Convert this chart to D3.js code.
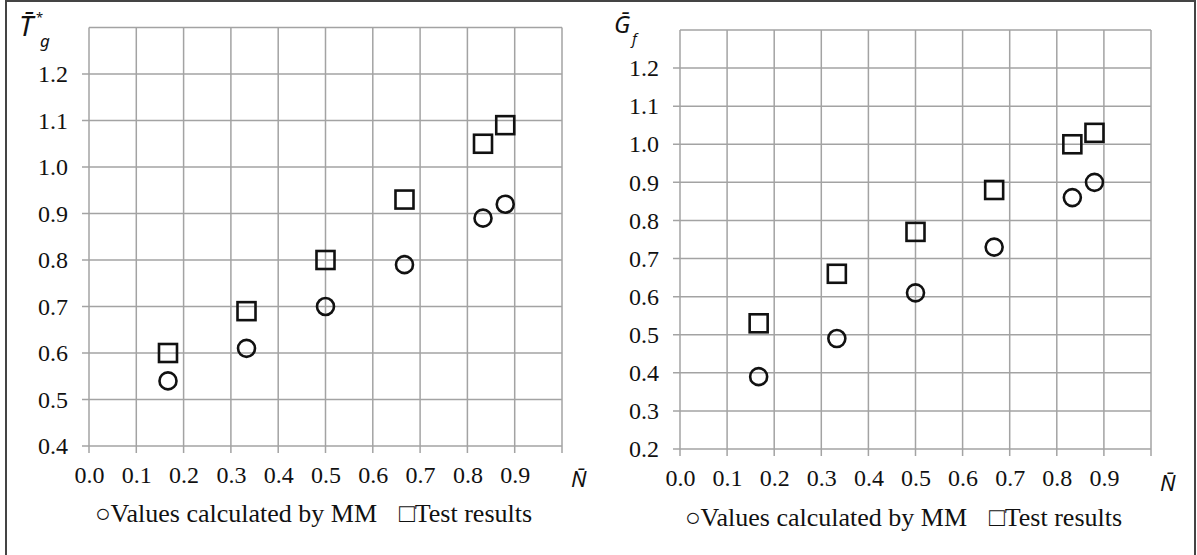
<!DOCTYPE html>
<html>
<head>
<meta charset="utf-8">
<script src="https://cdn.jsdelivr.net/npm/d3@7"></script>
<style>
  body { margin: 0; background: #fff; }
  svg { display: block; }
</style>
</head>
<body>
<div id="chart"></div>
<script>
// Values of N (relative load) shared by both panels
const nValues = [0.167, 0.333, 0.5, 0.667, 0.833, 0.88];

// Left panel: T*g
const tgCalc = [0.54, 0.61, 0.70, 0.79, 0.89, 0.92];
const tgTest = [0.60, 0.69, 0.80, 0.93, 1.05, 1.09];

// Right panel: Gf
const gfCalc = [0.39, 0.49, 0.61, 0.73, 0.86, 0.90];
const gfTest = [0.53, 0.66, 0.77, 0.88, 1.00, 1.03];

// Tick labels
const xLabels = [0.0, 0.1, 0.2, 0.3, 0.4, 0.5, 0.6, 0.7, 0.8, 0.9];
const xGrid = [0.0, 0.1, 0.2, 0.3, 0.4, 0.5, 0.6, 0.7, 0.8, 0.9, 1.0];
const tgTicks = [0.4, 0.5, 0.6, 0.7, 0.8, 0.9, 1.0, 1.1, 1.2];
const gfTicks = [0.2, 0.3, 0.4, 0.5, 0.6, 0.7, 0.8, 0.9, 1.0, 1.1, 1.2];

const legendCalc = '\u25CBValues calculated by MM';
const legendTest = '\u25A1Test results';

const W = 1197, H = 555;
const svg = d3.select('#chart').append('svg')
    .attr('width', W)
    .attr('height', H);

// рамка вокруг рисунка
svg.append('rect')
    .attr('x', 6).attr('y', 1)
    .attr('width', 1189).attr('height', 620)
    .attr('fill', 'none')
    .attr('stroke', '#444')
    .attr('stroke-width', 2);

const gridColor = '#a3a3a3';
const serif = '"Liberation Serif", "Times New Roman", serif';
const sans = '"Noto Sans", "Open Sans", sans-serif';

function drawPanel(p) {
    const x = d3.scaleLinear().domain([0, 1]).range([p.left, p.right]);
    const y = d3.scaleLinear().domain([p.yMin, 1.3]).range([p.bottom, p.top]);
    const g = svg.append('g');

    // horizontal grid lines (with small tick on the left)
    g.selectAll('.hgrid')
        .data(p.yTicks)
        .enter().append('line')
        .attr('x1', p.left - 7).attr('x2', p.right)
        .attr('y1', d => y(d)).attr('y2', d => y(d))
        .attr('stroke', gridColor).attr('stroke-width', 1.5);

    // top border of plot area
    g.append('line')
        .attr('x1', p.left).attr('x2', p.right)
        .attr('y1', y(1.3)).attr('y2', y(1.3))
        .attr('stroke', gridColor).attr('stroke-width', 1.5);

    // vertical grid lines (ticks below axis)
    g.selectAll('.vgrid')
        .data(xGrid)
        .enter().append('line')
        .attr('x1', d => x(d)).attr('x2', d => x(d))
        .attr('y1', y(1.3)).attr('y2', p.bottom + 7)
        .attr('stroke', gridColor).attr('stroke-width', 1.5);

    // y labels
    const yAxis = g.append('g')
        .attr('transform', `translate(${p.left - 14},0)`)
        .call(d3.axisLeft(y).tickValues(p.yTicks).tickSize(0).tickPadding(7).tickFormat(d3.format('.1f')));
    yAxis.select('.domain').remove();
    yAxis.selectAll('text')
        .style('font-family', serif).style('font-size', '24px').attr('fill', '#111');

    // x labels
    const xAxis = g.append('g')
        .attr('transform', `translate(0,${p.bottom + 20})`)
        .call(d3.axisBottom(x).tickValues(xLabels).tickSize(0).tickPadding(0).tickFormat(d3.format('.1f')));
    xAxis.select('.domain').remove();
    xAxis.selectAll('text')
        .style('font-family', serif).style('font-size', '24px').attr('fill', '#111');

    // маркеры: круги (расчёт) и квадраты (испытания)
    g.selectAll('.calc')
        .data(nValues.map((n, i) => [n, p.calc[i]]))
        .enter().append('circle')
        .attr('cx', d => x(d[0])).attr('cy', d => y(d[1]))
        .attr('r', 8.5)
        .attr('fill', 'none').attr('stroke', '#111').attr('stroke-width', 2.6);

    g.selectAll('.test')
        .data(nValues.map((n, i) => [n, p.test[i]]))
        .enter().append('rect')
        .attr('x', d => x(d[0]) - 9).attr('y', d => y(d[1]) - 9)
        .attr('width', 18).attr('height', 18)
        .attr('fill', 'none').attr('stroke', '#111').attr('stroke-width', 2.6);

    // N axis title
    g.append('text')
        .attr('x', p.right + 9).attr('y', p.bottom + 41 + p.xShift)
        .text('N\u0304')
        .style('font-family', sans).style('font-style', 'italic')
        .style('font-size', '22px').attr('fill', '#111');

    // легенда
    const leg = g.append('text')
        .attr('x', (p.left + p.right) / 2 - 12).attr('y', p.bottom + 76 + p.xShift)
        .attr('text-anchor', 'middle')
        .style('font-family', serif).style('font-size', '26px').attr('fill', '#111');
    leg.append('tspan').text(legendCalc);
    leg.append('tspan').attr('dx', 22).text(legendTest);

    return g;
}

const gl = drawPanel({left: 89, right: 562, top: 27.5, bottom: 446, yMin: 0.4,
    yTicks: tgTicks, calc: tgCalc, test: tgTest, xShift: 0});
const gr = drawPanel({left: 680, right: 1151, top: 30, bottom: 449, yMin: 0.2,
    yTicks: gfTicks, calc: gfCalc, test: gfTest, xShift: 1});

// y axis titles
gl.append('text').attr('x', 19).attr('y', 36).text('T\u0304')
    .style('font-family', sans).style('font-style', 'italic').style('font-size', '28px').attr('fill', '#111');
gl.append('text').attr('x', 36).attr('y', 22).text('*')
    .style('font-family', sans).style('font-size', '13px').attr('fill', '#111');
gl.append('text').attr('x', 40).attr('y', 47).text('g')
    .style('font-family', sans).style('font-style', 'italic').style('font-size', '17px').attr('fill', '#111');

gr.append('text').attr('x', 614).attr('y', 33).text('G\u0304')
    .style('font-family', sans).style('font-style', 'italic').style('font-size', '24px').attr('fill', '#111');
gr.append('text').attr('x', 632).attr('y', 44).text('f')
    .style('font-family', sans).style('font-style', 'italic').style('font-size', '15px').attr('fill', '#111');
</script>
</body>
</html>
